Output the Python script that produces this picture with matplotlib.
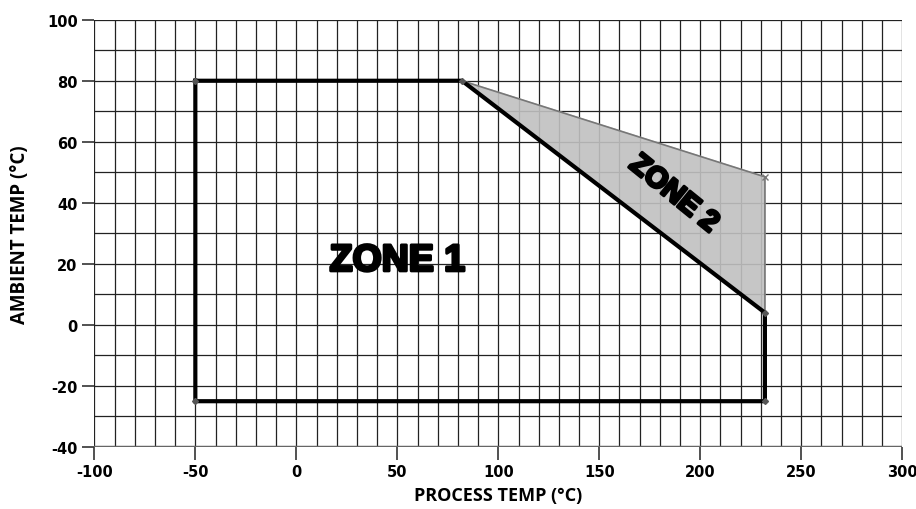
import matplotlib
matplotlib.use("Agg")
import matplotlib.pyplot as plt
import matplotlib.patheffects as pe

plt.rcParams["axes.unicode_minus"] = False

# boundary corners (process temp, ambient temp)
zone1_x = [-50, 82, 232, 232, -50, -50]
zone1_y = [80, 80, 4, -25, -25, 80]
zone2_x = [82, 232, 232, 82]
zone2_y = [80, 48.5, 4, 80]

x_ticks = [-100, -50, 0, 50, 100, 150, 200, 250, 300]
y_ticks = [-40, -20, 0, 20, 40, 60, 80, 100]

fig = plt.figure(figsize=(9.16, 5.10), dpi=100)
ax = fig.add_axes([0.103, 0.1216, 0.882, 0.8378])

ax.set_xlim(-100, 300)
ax.set_ylim(-40, 100)

# fine grid every 10 units
for gx in range(-100, 301, 10):
    ax.axvline(gx, color="#222222", lw=0.9, zorder=1)
for gy in range(-40, 101, 10):
    ax.axhline(gy, color="#222222", lw=0.9, zorder=1)
ax.axhline(-40, color="#666666", lw=2.5, zorder=1)

# zone 2 shaded wedge
ax.fill(zone2_x, zone2_y, color="#c0c0c0", alpha=0.9, zorder=2)
ax.plot(zone2_x, zone2_y, color="#777777", lw=1.2, zorder=3)

# zone 1 boundary
ax.plot(zone1_x, zone1_y, color="black", lw=3, zorder=4,
        solid_joinstyle="miter")
ax.plot(zone1_x[:-1], zone1_y[:-1], ls="none", marker="D", ms=3,
        color="#555555", zorder=5)
ax.plot([232], [48.5], ls="none", marker="x", ms=4, color="#777777", zorder=5)

heavy = [pe.withStroke(linewidth=2.2, foreground="black")]
ax.text(50, 21, "ZONE 1", fontsize=27, fontweight="bold",
        family="Liberation Sans", ha="center", va="center",
        zorder=6, path_effects=heavy)
ax.text(187, 43, "ZONE 2", fontsize=21, fontweight="bold",
        family="Liberation Sans", ha="center", va="center",
        rotation=-39, rotation_mode="anchor", zorder=6, path_effects=heavy)

for s in ax.spines.values():
    s.set_visible(False)

ax.set_xticks(x_ticks)
ax.set_yticks(y_ticks)
ax.tick_params(length=9, width=1.2, color="#333333", pad=3,
               labelsize=10.5)
for lab in ax.get_xticklabels() + ax.get_yticklabels():
    lab.set_fontweight("bold")
    lab.set_family("Liberation Sans Narrow")

ax.set_xlabel("PROCESS TEMP (°C)", fontsize=13, fontweight="bold",
              family="Open Sans", labelpad=5)
ax.set_ylabel("AMBIENT TEMP (°C)", fontsize=13.5, fontweight="bold",
              family="Open Sans", labelpad=12)

fig.savefig("out.png", dpi=100)
